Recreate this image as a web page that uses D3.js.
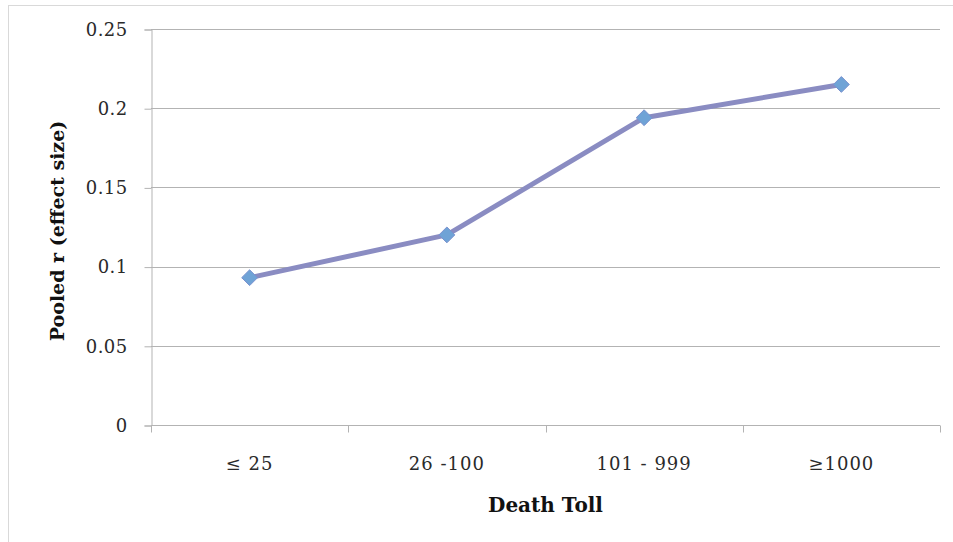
<!DOCTYPE html>
<html>
<head>
<meta charset="utf-8">
<script src="https://cdn.jsdelivr.net/npm/d3@7"></script>
<style>
  html, body { margin: 0; padding: 0; background: #fff; }
  svg { display: block; }
</style>
</head>
<body>
<svg id="chart" width="953" height="542"></svg>
<script>
// Pooled effect size by death toll category
const categories = ["\u2264 25", "26 -100", "101 - 999", "\u22651000"];
const pooledR = [0.093, 0.120, 0.194, 0.215];
const yTicks = [0, 0.05, 0.1, 0.15, 0.2, 0.25];
const yTickLabels = ["0", "0.05", "0.1", "0.15", "0.2", "0.25"];

const svg = d3.select("#chart");
const W = 953, H = 542;
const plot = { left: 151, right: 940, top: 29, bottom: 425 };
const serif = "'DejaVu Serif', serif";

// Outer chart frame
svg.append("rect")
  .attr("x", 8.5).attr("y", 5.5)
  .attr("width", W).attr("height", H)
  .attr("fill", "#fff")
  .attr("stroke", "#d9d9d9");

const x = d3.scaleBand()
  .domain(categories)
  .range([plot.left, plot.right])
  .padding(0);

const y = d3.scaleLinear()
  .domain([0, 0.25])
  .range([plot.bottom, plot.top]);

// Horizontal gridlines
svg.append("g")
  .selectAll("line")
  .data(yTicks.filter(d => d > 0))
  .join("line")
  .attr("x1", plot.left).attr("x2", plot.right)
  .attr("y1", d => Math.round(y(d)) + 0.5)
  .attr("y2", d => Math.round(y(d)) + 0.5)
  .attr("stroke", "#b3b3b3")
  .attr("stroke-width", 1);

// Y axis
const yAxis = svg.append("g")
  .attr("transform", `translate(${plot.left + 0.5},0.5)`)
  .call(d3.axisLeft(y)
    .tickValues(yTicks)
    .tickFormat((d, i) => yTickLabels[i])
    .tickSize(7)
    .tickPadding(17));
yAxis.select(".domain").attr("stroke", "#b3b3b3");
yAxis.selectAll(".tick line").attr("stroke", "#b3b3b3");
yAxis.selectAll(".tick text")
  .attr("font-family", serif)
  .attr("font-size", 18)
  .attr("letter-spacing", 0.4)
  .attr("fill", "#2a2a2a");

// X axis with ticks at the category boundaries
const xAxis = svg.append("g")
  .attr("transform", `translate(0,${plot.bottom + 0.5})`);
xAxis.append("line")
  .attr("x1", plot.left).attr("x2", plot.right)
  .attr("stroke", "#b3b3b3");
const boundaries = categories.map(c => x(c)).concat([x(categories[categories.length - 1]) + x.bandwidth()]);
xAxis.selectAll("line.tick")
  .data(boundaries)
  .join("line")
  .attr("class", "tick")
  .attr("x1", d => Math.round(d) + 0.5).attr("x2", d => Math.round(d) + 0.5)
  .attr("y1", 0).attr("y2", 7)
  .attr("stroke", "#b3b3b3");
xAxis.selectAll("text")
  .data(categories)
  .join("text")
  .attr("x", d => x(d) + x.bandwidth() / 2)
  .attr("y", 44)
  .attr("text-anchor", "middle")
  .attr("font-family", serif)
  .attr("font-size", 18)
  .attr("letter-spacing", 1)
  .attr("fill", "#2a2a2a")
  .text(d => d);

// Axis titles
svg.append("text")
  .attr("x", (plot.left + plot.right) / 2)
  .attr("y", 512)
  .attr("text-anchor", "middle")
  .attr("font-family", serif)
  .attr("font-weight", "bold")
  .attr("font-size", 20)
  .attr("fill", "#111")
  .text("Death Toll");

svg.append("text")
  .attr("transform", "translate(64,231) rotate(-90)")
  .attr("text-anchor", "middle")
  .attr("font-family", serif)
  .attr("font-weight", "bold")
  .attr("font-size", 19)
  .attr("fill", "#111")
  .text("Pooled r (effect size)");

// Series line
const line = d3.line()
  .x((d, i) => x(categories[i]) + x.bandwidth() / 2)
  .y(d => y(d));

svg.append("path")
  .datum(pooledR)
  .attr("d", line)
  .attr("fill", "none")
  .attr("stroke", "#8a8cc2")
  .attr("stroke-width", 5)
  .attr("stroke-linejoin", "round");

// Diamond markers
const diamond = d3.symbol().type(d3.symbolDiamond2).size(160);
svg.append("g")
  .selectAll("path")
  .data(pooledR)
  .join("path")
  .attr("transform", (d, i) => `translate(${x(categories[i]) + x.bandwidth() / 2},${y(d)})`)
  .attr("d", diamond)
  .attr("fill", "#6fa3d6")
  .attr("stroke", "#7a92cf")
  .attr("stroke-width", 1);
</script>
</body>
</html>
